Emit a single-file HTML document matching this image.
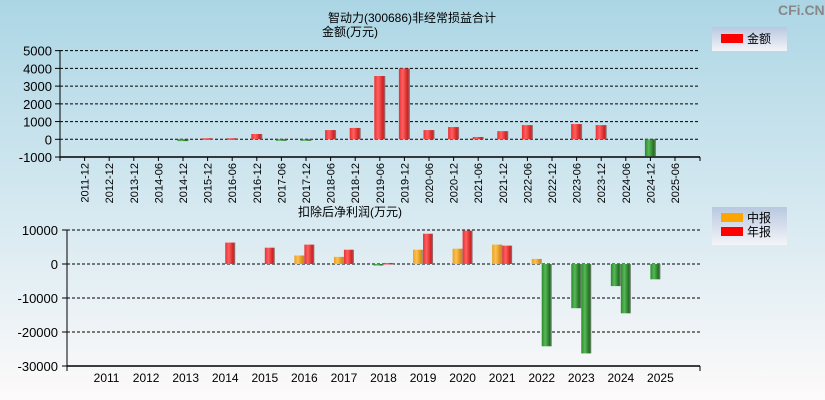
<!DOCTYPE html>
<html><head><meta charset="utf-8"><style>
body{margin:0;width:825px;height:400px;overflow:hidden;font-family:"Liberation Sans","Noto Sans CJK SC",sans-serif;}
svg{display:block}
</style></head><body>
<svg width="825" height="400" xmlns="http://www.w3.org/2000/svg">
<defs>
<linearGradient id="bg" x1="0" y1="0" x2="0" y2="1"><stop offset="0" stop-color="#acd6e5"/><stop offset="0.5" stop-color="#d4e8f0"/><stop offset="1" stop-color="#fdfafa"/></linearGradient>
<linearGradient id="red" x1="0" y1="0" x2="1" y2="0"><stop offset="0" stop-color="#e83030"/><stop offset="0.35" stop-color="#ff6060"/><stop offset="0.8" stop-color="#d02020"/><stop offset="1" stop-color="#808080"/></linearGradient>
<linearGradient id="grn" x1="0" y1="0" x2="1" y2="0"><stop offset="0" stop-color="#2a8a2a"/><stop offset="0.35" stop-color="#58b858"/><stop offset="0.8" stop-color="#207020"/><stop offset="1" stop-color="#808080"/></linearGradient>
<linearGradient id="org" x1="0" y1="0" x2="1" y2="0"><stop offset="0" stop-color="#e8a020"/><stop offset="0.35" stop-color="#ffc050"/><stop offset="0.8" stop-color="#d89010"/><stop offset="1" stop-color="#909090"/></linearGradient>
<linearGradient id="leg" x1="0" y1="0" x2="0" y2="1"><stop offset="0" stop-color="#b8c8e0"/><stop offset="1" stop-color="#f4f4f8"/></linearGradient>
</defs>
<rect width="825" height="400" fill="url(#bg)"/>
<text x="778" y="15" font-size="14" fill="#888" font-weight="bold">CFi.CN</text>
<text x="412" y="22" font-size="12" text-anchor="middle">智动力(300686)非经常损益合计</text>
<text x="350" y="36" font-size="12" text-anchor="middle">金额(万元)</text>
<g>
<rect x="712" y="27" width="75" height="24" fill="url(#leg)"/>
<rect x="721" y="34" width="22" height="9" fill="#f00"/>
<text x="747" y="43" font-size="12">金额</text>
</g>
<text x="350" y="216" font-size="12" text-anchor="middle">扣除后净利润(万元)</text>
<g>
<rect x="712" y="207" width="75" height="38" fill="url(#leg)"/>
<rect x="721" y="213" width="22" height="9" fill="#ffa500"/>
<text x="747" y="222" font-size="12">中报</text>
<rect x="721" y="227" width="22" height="9" fill="#f00"/>
<text x="747" y="236" font-size="12">年报</text>
</g>
<g id="top"></g><g id="bot"></g>
</svg>
<script>
const topCats=["2011-12","2012-12","2013-12","2014-06","2014-12","2015-12","2016-06","2016-12","2017-06","2017-12","2018-06","2018-12","2019-06","2019-12","2020-06","2020-12","2021-06","2021-12","2022-06","2022-12","2023-06","2023-12","2024-06","2024-12","2025-06"];
const topVals=[0,0,0,0,-100,60,60,300,-50,-50,520,640,3570,4000,520,690,130,460,800,0,860,800,0,-950,0];
const topTicks=[5000,4000,3000,2000,1000,0,-1000];
const botYears=["2011","2012","2013","2014","2015","2016","2017","2018","2019","2020","2021","2022","2023","2024","2025"];
const botMid=[0,0,0,0,0,2500,2100,-300,4200,4500,5700,1500,-13000,-6500,-4500];
const botAnnual=[0,0,0,6300,4800,5700,4200,300,8900,9800,5400,-24200,-26300,-14500,0];
const botTicks=[10000,0,-10000,-20000,-30000];
const NS="http://www.w3.org/2000/svg";
function mk(p,t,a){const e=document.createElementNS(NS,t);for(const k in a)e.setAttribute(k,a[k]);p.appendChild(e);return e;}
const T=document.getElementById('top');
const tY=v=>139.3-v*0.01773, tX=i=>60+24.6*(i+1);
topTicks.forEach(v=>{const y=tY(v);
 if(v!==-1000){const l=mk(T,'line',{x1:60,x2:700,y1:y,y2:y,stroke:'#000','stroke-dasharray':'3,2'});}
 mk(T,'line',{x1:55,x2:60,y1:y,y2:y,stroke:'#000'});
 const t=mk(T,'text',{x:52,y:y+5,'font-size':13,'text-anchor':'end'});t.textContent=v;
 });
mk(T,'line',{x1:60,x2:60,y1:50,y2:157,stroke:'#000'});
mk(T,'line',{x1:60,x2:700,y1:157,y2:157,stroke:'#000','stroke-width':1.5});
mk(T,'line',{x1:700,x2:700,y1:157,y2:161,stroke:'#000'});
mk(T,'line',{x1:60,x2:60,y1:157,y2:161,stroke:'#000'});
topCats.forEach((c,i)=>{const x=tX(i);
 mk(T,'line',{x1:x,x2:x,y1:157,y2:161,stroke:'#000'});
 const t=mk(T,'text',{x:0,y:0,'font-size':11,'text-anchor':'end',transform:`translate(${x+4},${163}) rotate(-90)`});t.textContent=c;
 
 const v=topVals[i];if(v===0)return;
 const y0=tY(0),y1=tY(v);
 const r=mk(T,'rect',{x:x-5.5,width:11,y:Math.min(y0,y1),height:Math.max(1.5,Math.abs(y1-y0)),fill:v>0?'url(#red)':'url(#grn)'});
 });
const B=document.getElementById('bot');
const bY=v=>264-v*0.0034, bX=i=>67+39.56*(i+1);
botTicks.forEach(v=>{const y=bY(v);
 if(v!==-30000){const l=mk(B,'line',{x1:67,x2:700,y1:y,y2:y,stroke:'#000','stroke-dasharray':'3,2'});}
 mk(B,'line',{x1:62,x2:67,y1:y,y2:y,stroke:'#000'});
 const t=mk(B,'text',{x:58,y:y+5,'font-size':13,'text-anchor':'end'});t.textContent=v;
 });
mk(B,'line',{x1:67,x2:67,y1:230,y2:366,stroke:'#000'});
mk(B,'line',{x1:67,x2:700,y1:366,y2:366,stroke:'#000','stroke-width':1.5});
mk(B,'line',{x1:67,x2:67,y1:366,y2:371,stroke:'#000'});
mk(B,'line',{x1:700,x2:700,y1:366,y2:371,stroke:'#000'});
botYears.forEach((yr,i)=>{const x=bX(i);
 const t=mk(B,'text',{x:x,y:382,'font-size':12,'text-anchor':'middle'});t.textContent=yr;
 
 [[botMid[i],-10,'url(#org)','mid'],[botAnnual[i],0,'url(#red)','annual']].forEach(([v,dx,f,n])=>{
  if(v===0)return;const y0=bY(0),y1=bY(v);
  const r=mk(B,'rect',{x:x+dx,width:10,y:Math.min(y0,y1),height:Math.max(1.5,Math.abs(y1-y0)),fill:v>0?f:'url(#grn)'});
  });});
</script>
</body></html>
